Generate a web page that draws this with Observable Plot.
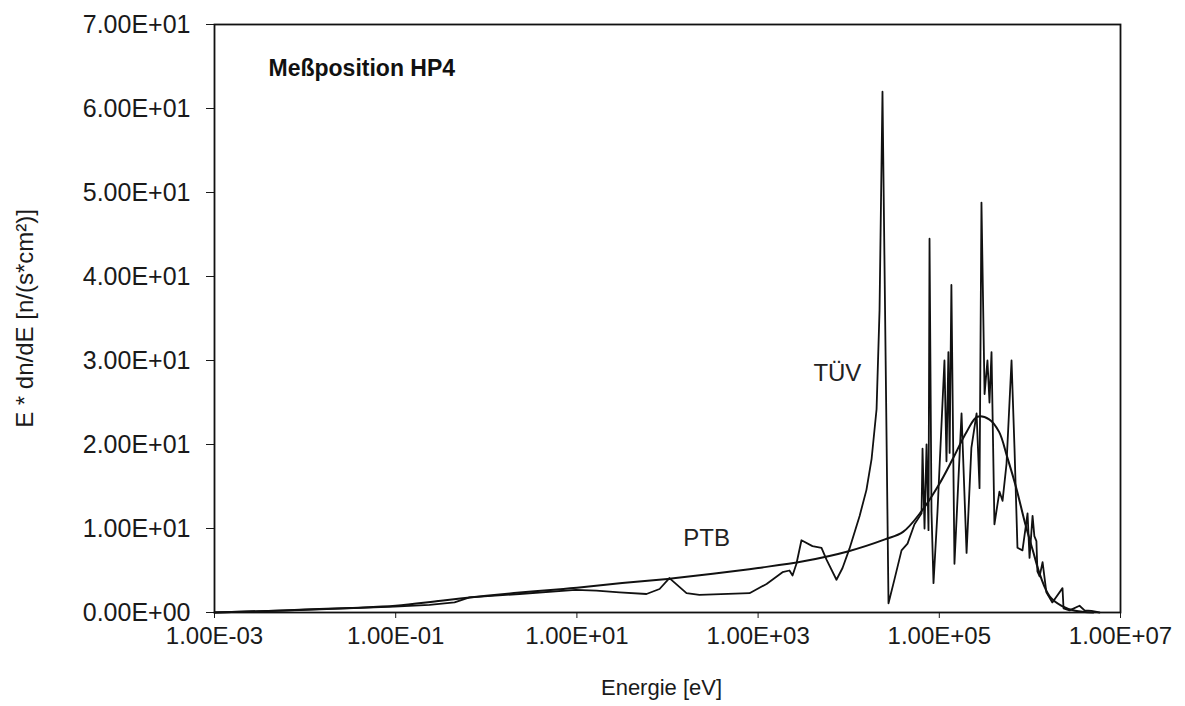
<!DOCTYPE html>
<html><head><meta charset="utf-8">
<script src="https://cdn.jsdelivr.net/npm/d3@7"></script>
<script src="https://cdn.jsdelivr.net/npm/@observablehq/plot@0.6"></script>
<style>body{margin:0;background:#fff}</style>
</head><body><div id="chart"></div>
<script>
// PTB (smooth unfolded spectrum): energy [eV] and E*dn/dE
const ptbEnergy = [1e-3, 3.16e-3, 1e-2, 3.16e-2, 1e-1, 0.316, 1, 3.16, 10, 31.6, 100, 316, 1000, 3160, 1e4, 2.51e4, 3.98e4, 6.31e4, 1e5, 1.41e5, 2.0e5, 2.63e5, 3.55e5, 4.57e5, 5.62e5, 7.08e5, 8.91e5, 1.07e6, 1.32e6, 1.66e6, 2.24e6, 3.16e6, 5.01e6];
const ptbValue  = [0, 0.15, 0.35, 0.55, 0.8, 1.4, 2.0, 2.5, 2.95, 3.5, 4.0, 4.6, 5.3, 6.1, 7.3, 8.7, 9.6, 12.0, 15.3, 18.3, 21.5, 23.3, 23.0, 21.5, 18.5, 14.8, 10.5, 7.5, 4.2, 1.9, 0.8, 0.2, 0];

// TÜV (jagged spectrum)
const tuvEnergy = [1e-3, 8.67e-3, 9.70e-2, 0.236, 0.446, 0.653, 2.32, 9.66, 16.4, 29.5, 58.6, 81.7, 105, 162, 225, 804, 1240, 1860, 2220, 2400, 2650, 3010, 3980, 5010, 5690, 7330, 8550, 10200, 13200, 15700, 17900, 20300, 21900, 23600, 27500, 32100, 38300, 44600, 53200, 63700, 65300, 68700, 72300, 76000, 78000, 82000, 86300, 95500, 114000, 120000, 126000, 130000, 136000, 147000, 176000, 200000, 226000, 258000, 278000, 292000, 316000, 340000, 358000, 377000, 406000, 461000, 499000, 552000, 627000, 676000, 729000, 828000, 942000, 991000, 1.07e6, 1.12e6, 1.18e6, 1.21e6, 1.28e6, 1.38e6, 1.52e6, 1.77e6, 2.29e6, 2.35e6, 2.74e6, 3.53e6, 4.01e6, 4.79e6, 5.86e6];
const tuvValue  = [0, 0.3, 0.7, 0.9, 1.2, 1.8, 2.2, 2.7, 2.6, 2.4, 2.2, 2.8, 4.1, 2.3, 2.1, 2.3, 3.4, 4.8, 5.0, 4.4, 5.8, 8.6, 7.9, 7.7, 6.3, 3.9, 5.3, 7.6, 11.5, 14.6, 18.3, 24.2, 36, 62.0, 1.1, 4, 7.4, 8.2, 10.5, 11.8, 19.5, 10, 20, 9.8, 44.5, 12, 3.5, 12, 30, 18, 31, 19, 39.0, 5.8, 23.7, 7.1, 19.6, 23.7, 14.8, 48.8, 26, 30, 25, 31, 10.5, 14.4, 13.3, 17.7, 30, 19.6, 7.7, 7.4, 11.8, 6.5, 11.5, 9.1, 8.5, 4.9, 4.3, 6.0, 2.4, 1.2, 2.9, 0.5, 0.25, 0.8, 0.25, 0.2, 0];

const xTicks = [1e-3, 1e-1, 1e1, 1e3, 1e5, 1e7];
const yTicks = [0, 10, 20, 30, 40, 50, 60, 70];
const title = "Meßposition HP4";
const xLabel = "Energie [eV]";
const yLabel = "E * dn/dE [n/(s*cm²)]";
const seriesNames = ["TÜV", "PTB"];
const seriesLabelEnergy = [7.5e3, 270];
const seriesLabelValue = [28.5, 8.8];

const fmt = d => {
  const [m, e] = d.toExponential(2).split("e");
  const n = Math.abs(+e);
  return m + "E" + (+e < 0 ? "-" : "+") + String(n).padStart(2, "0");
};

const ptb = ptbEnergy.map((E, i) => ({E, v: ptbValue[i]}));
const tuv = tuvEnergy.map((E, i) => ({E, v: tuvValue[i]}));
const labels = seriesNames.map((name, i) => ({name, E: seriesLabelEnergy[i], v: seriesLabelValue[i]}));

const font = "'Liberation Sans', Arial, sans-serif";
const chart = Plot.plot({
  width: 1185,
  height: 706,
  marginLeft: 214,
  marginRight: 65,
  marginTop: 24,
  marginBottom: 94,
  style: {fontFamily: font, fontSize: "24px", color: "#1a1a1a", background: "#fff"},
  x: {type: "log", domain: [1e-3, 1e7]},
  y: {domain: [0, 70]},
  marks: [
    Plot.axisX({ticks: xTicks, tickFormat: fmt, tickSize: 6, tickPadding: 8, fontSize: 24, label: null}),
    Plot.axisY({ticks: yTicks, tickFormat: fmt, tickSize: 8, tickPadding: 16, fontSize: 25, label: null}),
    Plot.text([xLabel], {frameAnchor: "bottom", dx: -6, dy: 82, fontSize: 22, fill: "#1a1a1a"}),
    Plot.text([yLabel], {frameAnchor: "left", dx: -189, textAnchor: "middle", rotate: -90, fontSize: 24, fill: "#1a1a1a"}),
    Plot.frame({stroke: "#111", strokeWidth: 1.8}),
    Plot.line(ptb, {x: "E", y: "v", stroke: "#111", strokeWidth: 2, curve: "catmull-rom"}),
    Plot.line(tuv, {x: "E", y: "v", stroke: "#111", strokeWidth: 1.8}),
    Plot.text(labels, {x: "E", y: "v", text: "name", fontSize: 24, fill: "#222"}),
    Plot.text([title], {frameAnchor: "top-left", dx: 54, dy: 35, textAnchor: "start", fontWeight: "bold", fontSize: 23, fill: "#111"})
  ]
});
document.getElementById("chart").appendChild(chart);
</script>
</body></html>
